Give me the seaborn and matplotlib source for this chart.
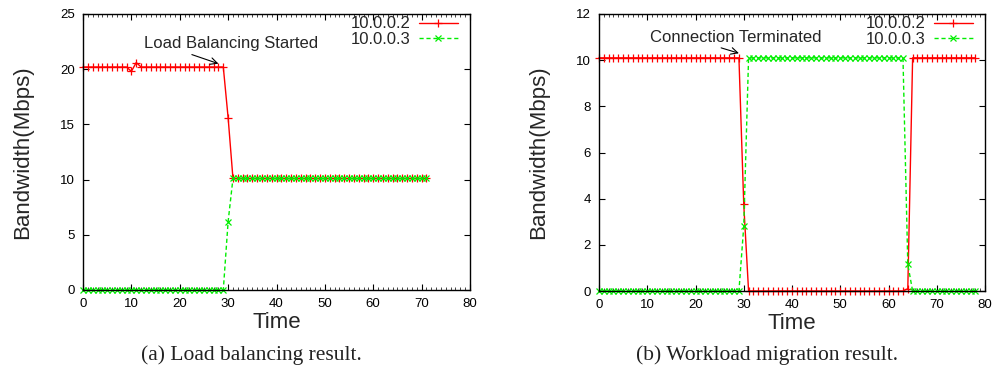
import numpy as np
import pandas as pd
import matplotlib
matplotlib.use("Agg")
import matplotlib.pyplot as plt
import seaborn as sns
from matplotlib.ticker import MultipleLocator

# ---------------- data ----------------
time_a = list(range(0, 72))
red_a = [20.2, 20.2, 20.2, 20.2, 20.2, 20.2, 20.2, 20.2, 20.2, 20.2,
         19.8, 20.6, 20.2, 20.2, 20.2, 20.2, 20.2, 20.2, 20.2, 20.2,
         20.2, 20.2, 20.2, 20.2, 20.2, 20.2, 20.2, 20.2, 20.2, 20.2,
         15.6, 10.1, 10.1, 10.1, 10.1, 10.1, 10.1, 10.1, 10.1, 10.1,
         10.1, 10.1, 10.1, 10.1, 10.1, 10.1, 10.1, 10.1, 10.1, 10.1,
         10.1, 10.1, 10.1, 10.1, 10.1, 10.1, 10.1, 10.1, 10.1, 10.1,
         10.1, 10.1, 10.1, 10.1, 10.1, 10.1, 10.1, 10.1, 10.1, 10.1,
         10.1, 10.1]
green_a = [0, 0, 0, 0, 0, 0, 0, 0, 0, 0,
           0, 0, 0, 0, 0, 0, 0, 0, 0, 0,
           0, 0, 0, 0, 0, 0, 0, 0, 0, 0,
           6.2, 10.1, 10.1, 10.1, 10.1, 10.1, 10.1, 10.1, 10.1, 10.1,
           10.1, 10.1, 10.1, 10.1, 10.1, 10.1, 10.1, 10.1, 10.1, 10.1,
           10.1, 10.1, 10.1, 10.1, 10.1, 10.1, 10.1, 10.1, 10.1, 10.1,
           10.1, 10.1, 10.1, 10.1, 10.1, 10.1, 10.1, 10.1, 10.1, 10.1,
           10.1, 10.1]

time_b = list(range(0, 79))
red_b = [10.1, 10.1, 10.1, 10.1, 10.1, 10.1, 10.1, 10.1, 10.1, 10.1,
         10.1, 10.1, 10.1, 10.1, 10.1, 10.1, 10.1, 10.1, 10.1, 10.1,
         10.1, 10.1, 10.1, 10.1, 10.1, 10.1, 10.1, 10.1, 10.1, 10.1,
         3.75, 0, 0, 0, 0, 0, 0, 0, 0, 0,
         0, 0, 0, 0, 0, 0, 0, 0, 0, 0,
         0, 0, 0, 0, 0, 0, 0, 0, 0, 0,
         0, 0, 0, 0, 0.1, 10.1, 10.1, 10.1, 10.1, 10.1,
         10.1, 10.1, 10.1, 10.1, 10.1, 10.1, 10.1, 10.1, 10.1]
green_b = [0, 0, 0, 0, 0, 0, 0, 0, 0, 0,
           0, 0, 0, 0, 0, 0, 0, 0, 0, 0,
           0, 0, 0, 0, 0, 0, 0, 0, 0, 0,
           2.8, 10.1, 10.1, 10.1, 10.1, 10.1, 10.1, 10.1, 10.1, 10.1,
           10.1, 10.1, 10.1, 10.1, 10.1, 10.1, 10.1, 10.1, 10.1, 10.1,
           10.1, 10.1, 10.1, 10.1, 10.1, 10.1, 10.1, 10.1, 10.1, 10.1,
           10.1, 10.1, 10.1, 10.1, 1.15, 0, 0, 0, 0, 0,
           0, 0, 0, 0, 0, 0, 0, 0, 0]

series_names = ["10.0.0.2", "10.0.0.3"]
x_ticks = [0, 10, 20, 30, 40, 50, 60, 70, 80]
y_ticks_a = [0, 5, 10, 15, 20, 25]
y_ticks_b = [0, 2, 4, 6, 8, 10, 12]

# ---------------- style ----------------
sns.set_theme(style="ticks")
plt.rcParams["font.family"] = ["Liberation Sans", "DejaVu Sans"]

RED = "#ff0000"
GREEN = "#00ee00"

fig = plt.figure(figsize=(9.93, 3.68), dpi=100)
ax_a = fig.add_axes([83 / 993, 1 - 290 / 368, 387 / 993, 276 / 368])
ax_b = fig.add_axes([599 / 993, 1 - 291 / 368, 386 / 993, 277 / 368])


def draw(ax, t, red, green, yticks, ymax):
    df = pd.DataFrame({"Time": t + t,
                       "bw": red + green,
                       "host": [series_names[0]] * len(t) + [series_names[1]] * len(t)})
    sns.lineplot(data=df[df.host == series_names[0]], x="Time", y="bw", ax=ax,
                 color=RED, lw=1.0, marker="+", markersize=5.5,
                 markeredgewidth=0.9, markeredgecolor=RED,
                 label=series_names[0], clip_on=False)
    sns.lineplot(data=df[df.host == series_names[1]], x="Time", y="bw", ax=ax,
                 color=GREEN, lw=1.0, linestyle=(0, (3, 2)), marker="x",
                 markersize=4.5, markeredgewidth=0.9, markeredgecolor=GREEN,
                 label=series_names[1], clip_on=False)
    ax.set_xlim(0, 80)
    ax.set_ylim(0, ymax)
    ax.set_xticks(x_ticks)
    ax.set_yticks(yticks)
    ax.xaxis.set_minor_locator(MultipleLocator(1))
    ax.tick_params(axis="both", which="major", direction="in", length=4,
                   width=0.8, top=True, right=True, labelsize=9.5, pad=6,
                   colors="black")
    ax.tick_params(axis="x", which="minor", direction="in", length=2,
                   width=0.6, top=True, bottom=True)
    for s in ax.spines.values():
        s.set_color("black")
        s.set_linewidth(1.0)
    ax.set_xlabel("Time", fontsize=16, labelpad=1)
    ax.set_ylabel("Bandwidth(Mbps)", fontsize=16, labelpad=19)
    leg = ax.legend(loc="upper right", bbox_to_anchor=(0.975, 1.0),
                    frameon=False, markerfirst=False, fontsize=12,
                    handlelength=2.35, labelspacing=0.0, handletextpad=0.5,
                    borderaxespad=0.0, borderpad=0.15)
    return leg


draw(ax_a, time_a, red_a, green_a, y_ticks_a, 25)
draw(ax_b, time_b, red_b, green_b, y_ticks_b, 12)

ax_a.annotate("Load Balancing Started", xy=(28.0, 20.5), xytext=(30.6, 22.3),
              fontsize=12, ha="center", va="center",
              arrowprops=dict(arrowstyle="->", color="black", lw=0.8,
                              shrinkA=0, shrinkB=0, relpos=(0.22, 0.0)))
ax_b.annotate("Connection Terminated", xy=(29.0, 10.3), xytext=(28.4, 11.0),
              fontsize=12, ha="center", va="center",
              arrowprops=dict(arrowstyle="->", color="black", lw=0.8,
                              shrinkA=0, shrinkB=0, relpos=(0.35, 0.0)))

fig.text(251 / 993, 1 - 355 / 368, "(a) Load balancing result.",
         family=["Liberation Serif", "DejaVu Serif"], fontsize=15.5,
         ha="center", va="center", color="#222222")
fig.text(767 / 993, 1 - 355 / 368, "(b) Workload migration result.",
         family=["Liberation Serif", "DejaVu Serif"], fontsize=15.5,
         ha="center", va="center", color="#222222")

fig.savefig("out.png", dpi=100)
